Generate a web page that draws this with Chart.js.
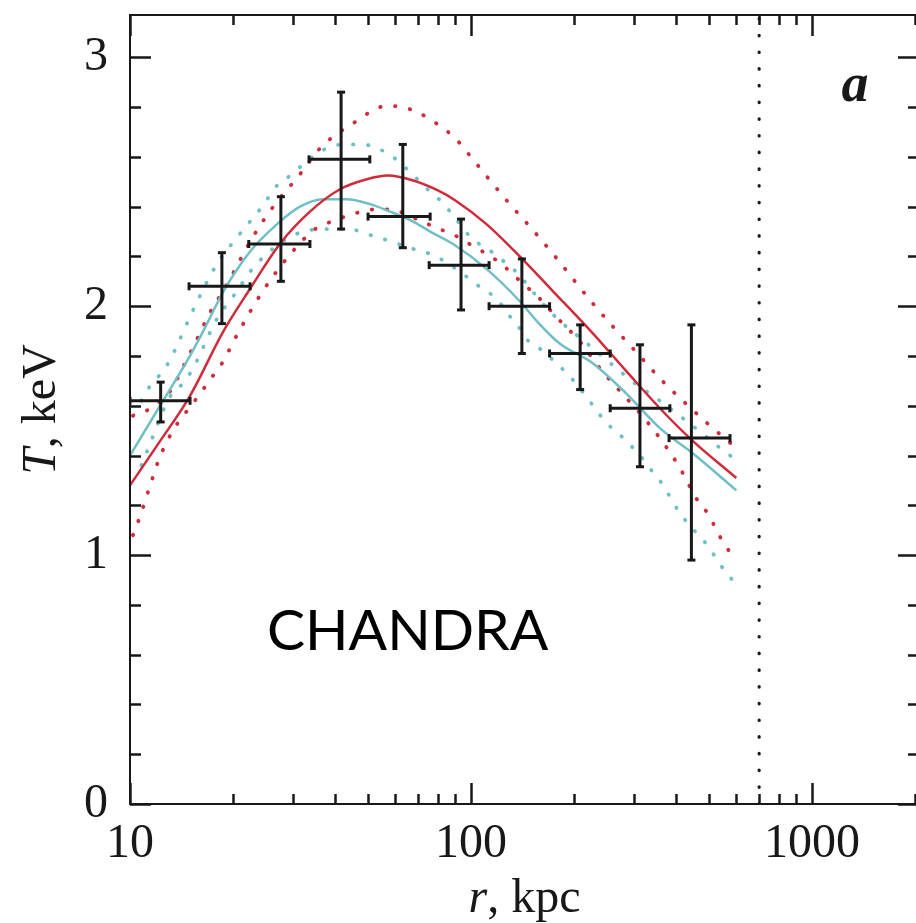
<!DOCTYPE html>
<html>
<head>
<meta charset="utf-8">
<script src="https://cdn.jsdelivr.net/npm/chart.js@4.4.1/dist/chart.umd.min.js"></script>
<style>
  html, body { margin: 0; padding: 0; background: #fff; overflow: hidden; }
  #wrap { position: relative; width: 930px; height: 923px; }
</style>
</head>
<body>
<div id="wrap"><canvas id="chart" width="930" height="923"></canvas></div>
<script>
// measured points with error bars
const rPoints = [12.3, 18.6, 27.7, 41.6, 63.1, 93.5, 141, 209, 313, 443];
const tPoints = [1.62, 2.08, 2.25, 2.59, 2.36, 2.165, 2.0, 1.81, 1.59, 1.47];
const rLow = [10, 14.9, 22.3, 33.5, 49.9, 75.4, 113, 170, 256, 381];
const rHigh = [15.0, 22.5, 33.7, 50.5, 75.9, 113, 170, 256, 383, 575];
const tLow = [1.535, 1.93, 2.10, 2.31, 2.235, 1.985, 1.81, 1.665, 1.355, 0.98];
const tHigh = [1.695, 2.215, 2.44, 2.86, 2.65, 2.35, 2.19, 1.925, 1.845, 1.925];

// model curves
const redSolidR = [10, 12, 15, 18.8, 22.5, 27.5, 33.7, 41.3, 49.5, 57, 67.7, 80, 90, 111, 139, 174, 228, 285, 358, 446, 600];
const redSolidT = [1.28, 1.44, 1.64, 1.90, 2.07, 2.25, 2.38, 2.47, 2.51, 2.525, 2.505, 2.465, 2.425, 2.33, 2.20, 2.06, 1.89, 1.74, 1.59, 1.46, 1.31];

const cyanSolidR = [10, 12, 14.7, 16.4, 18.8, 22.5, 27, 31.5, 36.8, 43.2, 50.6, 57.9, 67.7, 75.9, 88.6, 111, 139, 156, 182, 228, 285, 358, 446, 600];
const cyanSolidT = [1.40, 1.58, 1.78, 1.90, 2.06, 2.22, 2.33, 2.40, 2.43, 2.43, 2.41, 2.38, 2.34, 2.30, 2.25, 2.15, 2.02, 1.94, 1.85, 1.77, 1.65, 1.51, 1.41, 1.26];

const redUpR = [10.2, 11.5, 13.3, 14.0, 15.5, 17.1, 19.3, 21.3, 23.7, 27, 31.5, 35.3, 38.5, 46.3, 50.6, 56.3, 62.8, 69.5, 80, 90.6, 98.6, 113, 130, 151, 174, 228, 264, 308, 358, 418, 493, 600];
const redUpT = [1.56, 1.59, 1.67, 1.73, 1.85, 1.97, 2.09, 2.20, 2.31, 2.42, 2.53, 2.62, 2.67, 2.745, 2.78, 2.805, 2.80, 2.78, 2.73, 2.67, 2.61, 2.51, 2.41, 2.31, 2.21, 2.01, 1.91, 1.81, 1.71, 1.62, 1.53, 1.43];

const redLowR = [10.2, 10.6, 11.4, 12.2, 13.5, 15.3, 17.5, 18.6, 20.7, 24.5, 30, 34.9, 39, 47.8, 53.3, 60, 71.8, 81, 91, 99, 108, 120, 130, 142, 154, 180, 208, 239, 273, 313, 358, 410, 457, 493, 550, 590];
const redLowT = [1.08, 1.14, 1.27, 1.39, 1.51, 1.61, 1.72, 1.77, 1.89, 2.06, 2.22, 2.31, 2.34, 2.38, 2.39, 2.385, 2.34, 2.31, 2.28, 2.25, 2.22, 2.18, 2.14, 2.09, 2.05, 1.95, 1.86, 1.75, 1.66, 1.57, 1.47, 1.35, 1.23, 1.17, 1.05, 0.99];

const cyanUpR = [10.8, 11.2, 12.8, 13.5, 15.5, 18, 20.7, 24.4, 27.2, 29.9, 32.2, 38.5, 43.5, 48.1, 54, 59, 65, 75.9, 82, 88, 101, 112, 122, 133, 170, 228, 273, 296, 358, 446, 550, 603];
const cyanUpT = [1.62, 1.66, 1.76, 1.82, 2.0, 2.17, 2.28, 2.40, 2.49, 2.53, 2.57, 2.64, 2.65, 2.65, 2.63, 2.60, 2.55, 2.46, 2.42, 2.37, 2.27, 2.23, 2.19, 2.15, 1.98, 1.83, 1.74, 1.70, 1.62, 1.52, 1.42, 1.38];

const cyanLowR = [10.8, 11.6, 12.0, 12.5, 13.3, 14.3, 15.3, 18, 20.1, 23.5, 32.2, 38.5, 44, 49.5, 55.3, 67.7, 75.9, 83.7, 99, 108, 119, 128, 136, 145, 159, 188, 203, 217, 231, 250, 270, 313, 334, 362, 405, 431, 465, 500, 527, 568, 611];
const cyanLowT = [1.36, 1.467, 1.52, 1.58, 1.65, 1.69, 1.75, 1.95, 2.04, 2.17, 2.30, 2.31, 2.31, 2.29, 2.27, 2.23, 2.21, 2.18, 2.11, 2.07, 2.03, 1.97, 1.93, 1.87, 1.83, 1.74, 1.69, 1.64, 1.59, 1.53, 1.49, 1.40, 1.35, 1.29, 1.18, 1.13, 1.08, 1.03, 0.98, 0.92, 0.87];

// axes
const rBoundary = 700;
const xMin = 10, xMax = 2060;
const yMin = 0, yMax = 3.17;
const xTicks = [10, 20, 30, 40, 50, 60, 70, 80, 90, 100, 200, 300, 400, 500, 600, 700, 800, 900, 1000, 2000];
const xLabels = [10, 100, 1000];
const yTicks = [0, 0.2, 0.4, 0.6, 0.8, 1, 1.2, 1.4, 1.6, 1.8, 2, 2.2, 2.4, 2.6, 2.8, 3];
const yLabels = [0, 1, 2, 3];

const RED = '#cf2b3a';
const CYAN = '#6fc0c6';
const INK = '#181818';
const SERIF = "'Liberation Serif', 'Times New Roman', serif";

const toXY = (xs, ys) => xs.map((x, i) => ({ x, y: ys[i] }));

const xErrData = [];
const yErrData = [];
rPoints.forEach((r, i) => {
  xErrData.push({ x: rLow[i], y: tPoints[i] }, { x: rHigh[i], y: tPoints[i] }, { x: null, y: null });
  yErrData.push({ x: r, y: tLow[i] }, { x: r, y: tHigh[i] }, { x: null, y: null });
});

function curve(xs, ys, color, dotted) {
  return {
    data: toXY(xs, ys),
    showLine: true,
    borderColor: color,
    borderWidth: dotted ? 3.8 : 2.5,
    borderDash: dotted ? [0.5, 14.5] : [],
    borderCapStyle: dotted ? 'round' : 'butt',
    pointRadius: 0,
    cubicInterpolationMode: 'monotone',
    spanGaps: false,
  };
}

function errBars(data, rotation) {
  return {
    data,
    showLine: true,
    spanGaps: false,
    borderColor: INK,
    borderWidth: 3,
    pointStyle: 'line',
    rotation,
    pointRadius: 4,
    pointBorderWidth: 3,
    pointBorderColor: INK,
  };
}

// keep the plot box where the reference has it
function fixBox(size) {
  return (scale) => {
    if (scale.isHorizontal()) scale.height = size; else scale.width = size;
    scale.paddingTop = 0; scale.paddingBottom = 0;
    scale.paddingLeft = 0; scale.paddingRight = 0;
  };
}

const framePlugin = {
  id: 'frame',
  afterDraw(chart) {
    const { ctx, chartArea: a, scales: { x, y } } = chart;
    ctx.save();
    ctx.strokeStyle = INK;
    ctx.lineWidth = 2;
    ctx.strokeRect(a.left, a.top, a.right - a.left, a.bottom - a.top);
    ctx.lineWidth = 2.5;
    ctx.beginPath();
    x.ticks.forEach(t => {
      const px = Math.round(x.getPixelForValue(t.value)) + 0.5;
      const len = xLabels.includes(t.value) ? 21 : 10;
      ctx.moveTo(px, a.bottom); ctx.lineTo(px, a.bottom - len);
      ctx.moveTo(px, a.top); ctx.lineTo(px, a.top + len);
    });
    y.ticks.forEach(t => {
      const py = Math.round(y.getPixelForValue(t.value)) + 0.5;
      const len = yLabels.includes(t.value) ? 21 : 11;
      ctx.moveTo(a.left, py); ctx.lineTo(a.left + len, py);
      ctx.moveTo(a.right, py); ctx.lineTo(a.right - len, py);
    });
    ctx.stroke();

    // axis titles, italic symbol + upright unit
    ctx.fillStyle = INK;
    ctx.textBaseline = 'alphabetic';
    const it = 'italic 48px ' + SERIF;
    const up = '48px ' + SERIF;

    ctx.font = it; const wr = ctx.measureText('r').width;
    ctx.font = up; const wk = ctx.measureText(', kpc').width;
    let sx = (a.left + a.right) / 2 - (wr + wk) / 2;
    ctx.textAlign = 'left';
    ctx.font = it; ctx.fillText('r', sx, 912);
    ctx.font = up; ctx.fillText(', kpc', sx + wr, 912);

    ctx.save();
    ctx.translate(55, (a.top + a.bottom) / 2);
    ctx.rotate(-Math.PI / 2);
    ctx.font = it; const wt = ctx.measureText('T').width;
    ctx.font = up; const wv = ctx.measureText(', keV').width;
    sx = -(wt + wv) / 2;
    ctx.font = it; ctx.fillText('T', sx, 0);
    ctx.font = up; ctx.fillText(', keV', sx + wt, 0);
    ctx.restore();

    ctx.font = 'italic bold 54px ' + SERIF;
    ctx.textAlign = 'center';
    ctx.fillText('a', 855, 101);

    ctx.fillStyle = '#000';
    ctx.font = '57px Lato, sans-serif';
    ctx.textAlign = 'left';
    ctx.fillText('CHANDRA', 267, 650);
    ctx.restore();
  }
};

new Chart(document.getElementById('chart'), {
  type: 'scatter',
  data: {
    datasets: [
      errBars(yErrData, 0),
      errBars(xErrData, 90),
      curve(redSolidR, redSolidT, RED, false),
      curve(cyanSolidR, cyanSolidT, CYAN, false),
      curve(redUpR, redUpT, RED, true),
      curve(redLowR, redLowT, RED, true),
      curve(cyanUpR, cyanUpT, CYAN, true),
      curve(cyanLowR, cyanLowT, CYAN, true),
      {
        data: [{ x: rBoundary, y: yMin }, { x: rBoundary, y: yMax }],
        showLine: true,
        borderColor: INK,
        borderWidth: 3.2,
        borderDash: [0.5, 16.2],
        borderCapStyle: 'round',
        pointRadius: 0,
      },
    ],
  },
  options: {
    responsive: false,
    animation: false,
    devicePixelRatio: 1,
    layout: { padding: { left: 0, top: 15, right: 11, bottom: 0 } },
    plugins: {
      legend: { display: false },
      tooltip: { enabled: false },
    },
    scales: {
      x: {
        type: 'logarithmic',
        min: xMin,
        max: xMax,
        afterBuildTicks: (scale) => { scale.ticks = xTicks.map(v => ({ value: v })); },
        afterFit: fixBox(119),
        grid: { display: false, drawTicks: false },
        border: { display: false },
        ticks: {
          autoSkip: false,
          maxRotation: 0,
          padding: 12,
          color: INK,
          font: { family: SERIF, size: 48 },
          callback: (v) => (xLabels.includes(v) ? String(v) : ''),
        },
      },
      y: {
        type: 'linear',
        min: yMin,
        max: yMax,
        afterBuildTicks: (scale) => { scale.ticks = yTicks.map(v => ({ value: v })); },
        afterFit: fixBox(130),
        grid: { display: false, drawTicks: false },
        border: { display: false },
        ticks: {
          autoSkip: false,
          padding: 22,
          color: INK,
          font: { family: SERIF, size: 48 },
          callback: (v) => (yLabels.includes(v) ? String(v) : ''),
        },
      },
    },
  },
  plugins: [framePlugin],
});
</script>
</body>
</html>
